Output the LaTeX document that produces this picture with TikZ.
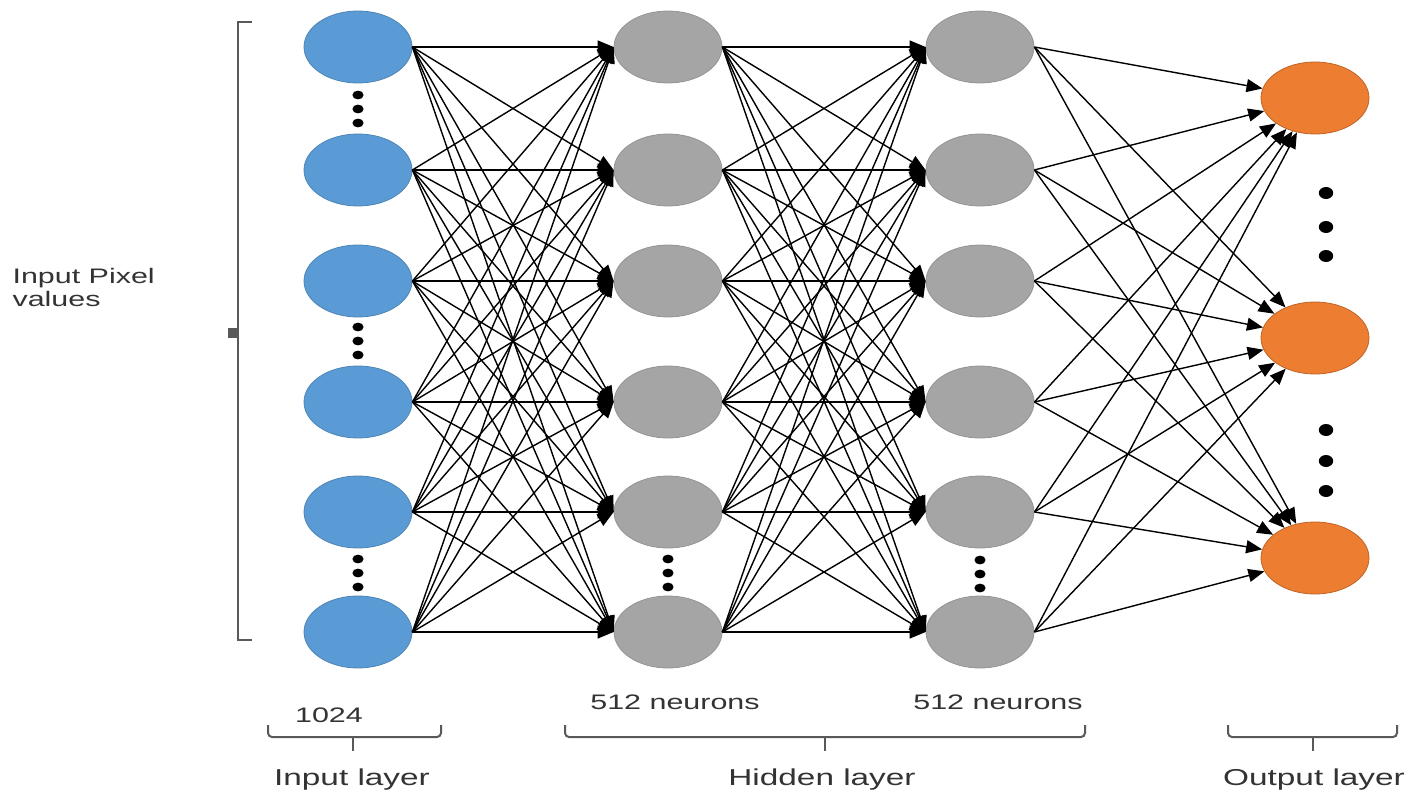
\documentclass[tikz,border=0pt]{standalone}
\usepackage{fontspec}
\setmainfont{Liberation Sans}
\usetikzlibrary{shapes.geometric,arrows.meta}
\definecolor{inblue}{HTML}{5B9BD5}
\definecolor{hidgray}{HTML}{A5A5A5}
\definecolor{outorange}{HTML}{ED7D31}
\tikzset{
  unit/.style={draw,ellipse,minimum width=54pt,minimum height=36pt,inner sep=0pt,line width=0.4pt},
  inputunit/.style={unit,fill=inblue,draw=inblue!85!black},
  hiddenunit/.style={unit,fill=hidgray,draw=hidgray!90!black},
  outputunit/.style={unit,fill=outorange,draw=outorange!80!black},
  link/.style={draw,line width=0.7pt,-{Triangle[length=8pt,width=6.5pt]}},
  caption/.style={font=\fontsize{10.5}{11.5}\selectfont,text=black!80,xscale=1.45,inner sep=0pt},
  layername/.style={font=\fontsize{11.5}{13}\selectfont,text=black!80,xscale=1.45,inner sep=0pt},
  bracket/.style={draw=black!65,line width=1pt,rounded corners=2pt}
}
\begin{document}
\begin{tikzpicture}[x=0.5pt,y=-0.5pt]
  \useasboundingbox (0,0) rectangle (1413,792);
  \foreach \y [count=\i] in {47,170,281,402,512,632} {
    \node[inputunit] (in\i) at (358,\y) {};
    \node[hiddenunit] (ha\i) at (668,\y) {};
    \node[hiddenunit] (hb\i) at (980,\y) {};
  }
  \foreach \y [count=\i] in {98,338,558}
    \node[outputunit] (out\i) at (1315,\y) {};

  \foreach \a in {1,...,6}
    \foreach \b in {1,...,6} {
      \draw[link] (in\a.east) -- (ha\b.west);
      \draw[link] (ha\a.east) -- (hb\b.west);
    }
  \foreach \a in {1,...,6}
    \foreach \b in {1,2,3}
      \draw[link] (hb\a.east) -- (out\b);

  \foreach \x/\y in {358/95,358/327,358/559,668/559,980/560}
    \foreach \d in {0,14,28}
      \fill (\x,{\y+\d}) ellipse [x radius=2.8pt,y radius=2.2pt];
  \foreach \y in {193,227,256,430,461,491}
    \fill (1326,\y) ellipse [x radius=3.6pt,y radius=3pt];

  \draw[bracket,rounded corners=0pt] (252,22) -- (238,22) -- (238,640) -- (252,640);
  \fill[black!65] (228,328) rectangle (238,338);
  \node[caption,anchor=north west,align=left] (pixels) at (12,268) {Input Pixel\\values};

  \draw[bracket] (268,725) -- (268,737) -- (441,737) -- (441,725);
  \draw[bracket] (353,737) -- (353,751);
  \draw[bracket] (565,725) -- (565,737) -- (1085,737) -- (1085,725);
  \draw[bracket] (825,737) -- (825,751);
  \draw[bracket] (1228,725) -- (1228,737) -- (1397,737) -- (1397,725);
  \draw[bracket] (1313,737) -- (1313,751);

  \node[caption] (count) at (329,715) {1024};
  \node[caption] (neuronsA) at (675,702) {512 neurons};
  \node[caption] (neuronsB) at (998,702) {512 neurons};
  \node[layername] (inlayer) at (352,780) {Input layer};
  \node[layername] (hidlayer) at (822,780) {Hidden layer};
  \node[layername] (outlayer) at (1314,780) {Output layer};
\end{tikzpicture}
\end{document}
